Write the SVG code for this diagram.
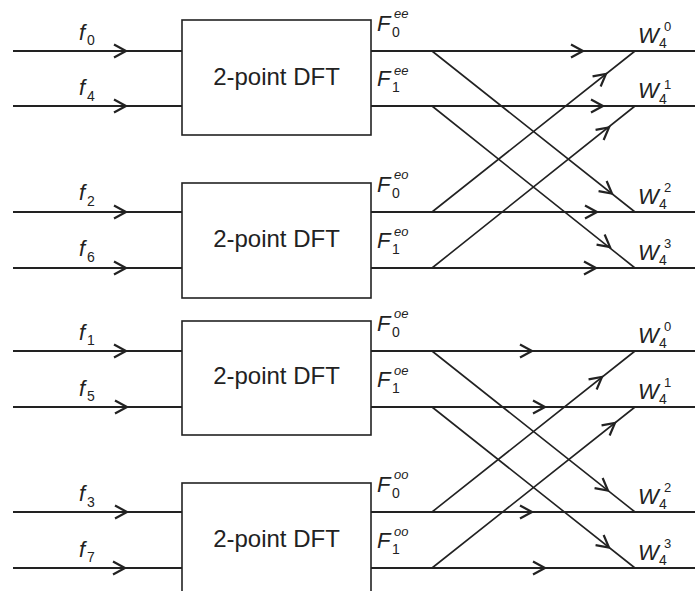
<svg xmlns="http://www.w3.org/2000/svg" xmlns:xlink="http://www.w3.org/1999/xlink" width="695" height="591" viewBox="0 0 695 591">
<style>
.box{fill:#fff;stroke:#222;stroke-width:1.6}
.h{stroke:#222;stroke-width:2;fill:none}
.d{stroke:#222;stroke-width:1.6;fill:none}
.chev{stroke:#222;stroke-width:2.2;fill:none;stroke-linejoin:miter}
.t{font-family:"Liberation Sans",Arial,sans-serif;fill:#222}
.lbl{font-size:24px;text-anchor:middle}
.it{font-style:italic}
.big{font-size:22px}
.sub{font-size:14px}
.sup{font-size:13px}
</style>
<defs>
<path id="chev" class="chev" d="M-12,-6.5 L0,0 L-12,6.5"/>
</defs>
<rect width="695" height="591" fill="#fff"/>
<g id="connectors">
<!-- input lines -->
<path class="h" d="M13,51H182M13,106H182M13,212H182M13,268H182M13,351H182M13,407H182M13,512H182M13,568H182"/>
<!-- output lines -->
<path class="h" d="M371,51H695M371,106H695M371,212H695M371,268H695M371,351H695M371,407H695M371,512H695M371,568H695"/>
<!-- butterflies -->
<path class="d" d="M432,51L635,212M432,106L635,268M432,212L635,51M432,268L635,106"/>
<path class="d" d="M432,351L635,512M432,407L635,568M432,512L635,351M432,568L635,407"/>
<!-- input arrowheads -->
<use xlink:href="#chev" transform="translate(126,51)"/>
<use xlink:href="#chev" transform="translate(126,106)"/>
<use xlink:href="#chev" transform="translate(126,212)"/>
<use xlink:href="#chev" transform="translate(126,268)"/>
<use xlink:href="#chev" transform="translate(126,351)"/>
<use xlink:href="#chev" transform="translate(127,407)"/>
<use xlink:href="#chev" transform="translate(127,512)"/>
<use xlink:href="#chev" transform="translate(125,568)"/>
<!-- output horizontal arrowheads -->
<use xlink:href="#chev" transform="translate(583,51)"/>
<use xlink:href="#chev" transform="translate(603,106)"/>
<use xlink:href="#chev" transform="translate(597,212)"/>
<use xlink:href="#chev" transform="translate(596,268)"/>
<use xlink:href="#chev" transform="translate(532,351)"/>
<use xlink:href="#chev" transform="translate(545,407)"/>
<use xlink:href="#chev" transform="translate(532,512)"/>
<use xlink:href="#chev" transform="translate(545,568)"/>
<!-- diagonal arrowheads -->
<use xlink:href="#chev" transform="translate(612,193.5) rotate(38.4)"/>
<use xlink:href="#chev" transform="translate(610,247) rotate(38.4)"/>
<use xlink:href="#chev" transform="translate(606,74) rotate(-38.4)"/>
<use xlink:href="#chev" transform="translate(609,127.5) rotate(-38.4)"/>
<use xlink:href="#chev" transform="translate(608,490.5) rotate(38.4)"/>
<use xlink:href="#chev" transform="translate(609,547.5) rotate(38.4)"/>
<use xlink:href="#chev" transform="translate(602,377) rotate(-38.4)"/>
<use xlink:href="#chev" transform="translate(615,423) rotate(-38.4)"/>
</g>
<g id="dft1">
<rect class="box" x="182" y="20" width="189" height="115"/>
<text class="t lbl" x="276.5" y="85">2-point DFT</text>
</g>
<g id="dft2">
<rect class="box" x="182" y="183" width="189" height="115"/>
<text class="t lbl" x="276.5" y="247">2-point DFT</text>
</g>
<g id="dft3">
<rect class="box" x="182" y="321" width="189" height="114"/>
<text class="t lbl" x="276.5" y="384">2-point DFT</text>
</g>
<g id="dft4">
<rect class="box" x="182" y="483" width="189" height="115"/>
<text class="t lbl" x="276.5" y="547">2-point DFT</text>
</g>
<g id="inputs" class="t">
<text class="it big" x="79" y="40">f</text><text class="sub" x="87" y="45">0</text>
<text class="it big" x="79" y="95">f</text><text class="sub" x="87" y="101">4</text>
<text class="it big" x="79" y="200">f</text><text class="sub" x="87" y="206">2</text>
<text class="it big" x="79" y="256">f</text><text class="sub" x="87" y="262">6</text>
<text class="it big" x="79" y="340">f</text><text class="sub" x="87" y="345">1</text>
<text class="it big" x="79" y="396">f</text><text class="sub" x="87" y="401">5</text>
<text class="it big" x="79" y="501">f</text><text class="sub" x="87" y="507">3</text>
<text class="it big" x="79" y="557">f</text><text class="sub" x="87" y="562">7</text>
</g>
<g id="intermediate" class="t">
<text class="it big" x="377" y="31">F</text><text class="sub" x="392" y="37">0</text><text class="it sup" x="394" y="18">ee</text>
<text class="it big" x="377" y="86">F</text><text class="sub" x="392" y="92">1</text><text class="it sup" x="394" y="75">ee</text>
<text class="it big" x="377" y="192">F</text><text class="sub" x="392" y="198">0</text><text class="it sup" x="394" y="179">eo</text>
<text class="it big" x="377" y="248">F</text><text class="sub" x="392" y="254">1</text><text class="it sup" x="394" y="236">eo</text>
<text class="it big" x="377" y="331">F</text><text class="sub" x="392" y="337">0</text><text class="it sup" x="394" y="318">oe</text>
<text class="it big" x="377" y="387">F</text><text class="sub" x="392" y="393">1</text><text class="it sup" x="394" y="375">oe</text>
<text class="it big" x="377" y="492">F</text><text class="sub" x="392" y="498">0</text><text class="it sup" x="394" y="479">oo</text>
<text class="it big" x="377" y="548">F</text><text class="sub" x="392" y="554">1</text><text class="it sup" x="394" y="536">oo</text>
</g>
<g id="twiddles" class="t">
<text class="it big" x="638" y="43">W</text><text class="sub" x="659" y="48">4</text><text class="sup" x="664" y="31">0</text>
<text class="it big" x="638" y="98">W</text><text class="sub" x="659" y="104">4</text><text class="sup" x="664" y="89">1</text>
<text class="it big" x="638" y="204">W</text><text class="sub" x="659" y="209">4</text><text class="sup" x="664" y="192">2</text>
<text class="it big" x="638" y="260">W</text><text class="sub" x="659" y="265">4</text><text class="sup" x="664" y="248">3</text>
<text class="it big" x="638" y="343">W</text><text class="sub" x="659" y="348">4</text><text class="sup" x="664" y="331">0</text>
<text class="it big" x="638" y="399">W</text><text class="sub" x="659" y="404">4</text><text class="sup" x="664" y="387">1</text>
<text class="it big" x="638" y="504">W</text><text class="sub" x="659" y="509">4</text><text class="sup" x="664" y="492">2</text>
<text class="it big" x="638" y="560">W</text><text class="sub" x="659" y="565">4</text><text class="sup" x="664" y="548">3</text>
</g>
</svg>
